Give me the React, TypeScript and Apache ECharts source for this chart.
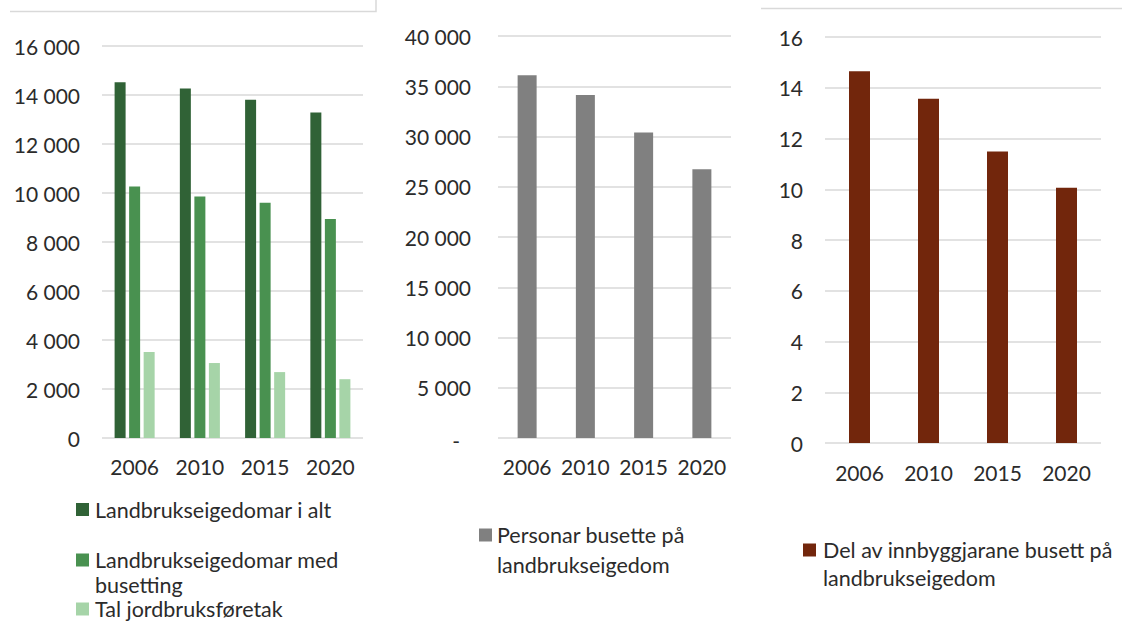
import React, { useEffect, useRef } from "react";
import * as echarts from "echarts";

const years = ["2006", "2010", "2015", "2020"];

const seriesNames1 = [
  "Landbrukseigedomar i alt",
  "Landbrukseigedomar med busetting",
  "Tal jordbruksføretak",
];
const eigedomarIAlt = [14520, 14270, 13810, 13290];
const eigedomarMedBusetting = [10270, 9860, 9600, 8940];
const jordbruksforetak = [3510, 3060, 2690, 2400];

const seriesName2 = "Personar busette på landbrukseigedom";
const personarBusette = [36100, 34120, 30390, 26750];

const seriesName3 = "Del av innbyggjarane busett på landbrukseigedom";
const delAvInnbyggjarane = [14.65, 13.57, 11.49, 10.06];

const colors1 = ["#306236", "#499150", "#a6d4a8"];
const color2 = "#808080";
const color3 = "#72260c";

const FONT = "Lato";
const TEXT = "#2b2b2b";
const GRID = "#d9d9d9";

const fmtThousands = (v: number) =>
  String(Math.round(v)).replace(/\B(?=(\d{3})+(?!\d))/g, " ");

export default function App() {
  const ref = useRef<HTMLDivElement>(null);

  useEffect(() => {
    document.body.style.margin = "0";
    const chart = echarts.init(ref.current!, null, { renderer: "svg" });

    const axisLabel = { color: TEXT, fontFamily: FONT, fontSize: 21 };
    const splitLine = { show: true, lineStyle: { color: GRID, width: 1.5 } };

    const xAxisBase = {
      type: "category",
      data: years,
      axisLine: { show: false },
      axisTick: { show: false },
      splitLine: { show: false },
    };

    const legendText = (
      x: number,
      y: number,
      text: string,
      lh: number,
      color: string,
      sqY: number,
      sqX: number
    ) => [
      {
        type: "rect",
        shape: { x: sqX, y: sqY, width: 13, height: 13 },
        style: { fill: color },
        silent: true,
      },
      {
        type: "text",
        x,
        y,
        style: {
          text,
          fill: TEXT,
          font: `21.5px ${FONT}`,
          lineHeight: lh,
          verticalAlign: "top",
        },
        silent: true,
      },
    ];

    const option = {
      animation: false,
      backgroundColor: "#ffffff",
      grid: [
        { left: 102, top: 46, width: 261, height: 392 },
        { left: 498, top: 36, width: 233, height: 402 },
        { left: 825, top: 37, width: 276, height: 406 },
      ],
      xAxis: [
        {
          ...xAxisBase,
          gridIndex: 0,
          axisLabel: { ...axisLabel, margin: 18, interval: 0, hideOverlap: false },
        },
        {
          ...xAxisBase,
          gridIndex: 1,
          axisLabel: { ...axisLabel, margin: 18, interval: 0, hideOverlap: false },
        },
        {
          ...xAxisBase,
          gridIndex: 2,
          axisLabel: { ...axisLabel, margin: 19, interval: 0, hideOverlap: false },
        },
      ],
      yAxis: [
        {
          type: "value",
          gridIndex: 0,
          min: 0,
          max: 16000,
          interval: 2000,
          axisLine: { show: false },
          axisTick: { show: false },
          splitLine,
          axisLabel: { ...axisLabel, margin: 22, formatter: fmtThousands },
        },
        {
          type: "value",
          gridIndex: 1,
          min: 0,
          max: 40000,
          interval: 5000,
          axisLine: { show: false },
          axisTick: { show: false },
          splitLine,
          axisLabel: {
            ...axisLabel,
            margin: 27,
            formatter: (v: number) => (v === 0 ? "{d|-}" : fmtThousands(v)),
            rich: {
              d: {
                color: TEXT,
                fontFamily: FONT,
                fontSize: 21,
                padding: [4, 11, 0, 0],
              },
            },
          },
        },
        {
          type: "value",
          gridIndex: 2,
          min: 0,
          max: 16,
          interval: 2,
          axisLine: { show: false },
          axisTick: { show: false },
          splitLine,
          axisLabel: { ...axisLabel, margin: 22 },
        },
      ],
      series: [
        {
          name: seriesNames1[0],
          type: "bar",
          xAxisIndex: 0,
          yAxisIndex: 0,
          data: eigedomarIAlt,
          barWidth: 11,
          barGap: "32%",
          itemStyle: { color: colors1[0] },
        },
        {
          name: seriesNames1[1],
          type: "bar",
          xAxisIndex: 0,
          yAxisIndex: 0,
          data: eigedomarMedBusetting,
          barWidth: 11,
          barGap: "32%",
          itemStyle: { color: colors1[1] },
        },
        {
          name: seriesNames1[2],
          type: "bar",
          xAxisIndex: 0,
          yAxisIndex: 0,
          data: jordbruksforetak,
          barWidth: 11,
          barGap: "32%",
          itemStyle: { color: colors1[2] },
        },
        {
          name: seriesName2,
          type: "bar",
          xAxisIndex: 1,
          yAxisIndex: 1,
          data: personarBusette,
          barWidth: 19,
          itemStyle: { color: color2 },
        },
        {
          name: seriesName3,
          type: "bar",
          xAxisIndex: 2,
          yAxisIndex: 2,
          data: delAvInnbyggjarane,
          barWidth: 21,
          itemStyle: { color: color3 },
        },
      ],
      graphic: [
        {
          type: "polyline",
          shape: { points: [[10, 11.5], [376, 11.5], [376, 0]] },
          style: { stroke: GRID, lineWidth: 1.5, fill: "none" },
          silent: true,
        },
        {
          type: "line",
          shape: { x1: 761, y1: 8.5, x2: 1122, y2: 8.5 },
          style: { stroke: GRID, lineWidth: 1.5 },
          silent: true,
        },
        ...legendText(95, 495.5, seriesNames1[0], 28, colors1[0], 503, 76),
        ...legendText(
          95,
          547,
          "Landbrukseigedomar med\nbusetting",
          25,
          colors1[1],
          553.5,
          76
        ),
        ...legendText(95, 598, seriesNames1[2], 22, colors1[2], 602.5, 76),
        ...legendText(
          497,
          520,
          "Personar busette på\nlandbrukseigedom",
          30,
          color2,
          528.5,
          479
        ),
        ...legendText(
          823,
          536,
          "Del av innbyggjarane busett på\nlandbrukseigedom",
          28,
          color3,
          543.5,
          803
        ),
      ],
    };

    chart.setOption(option as any);
    return () => chart.dispose();
  }, []);

  return (
    <div
      ref={ref}
      style={{ position: "fixed", left: 0, top: 0, width: 1122, height: 621 }}
    />
  );
}
